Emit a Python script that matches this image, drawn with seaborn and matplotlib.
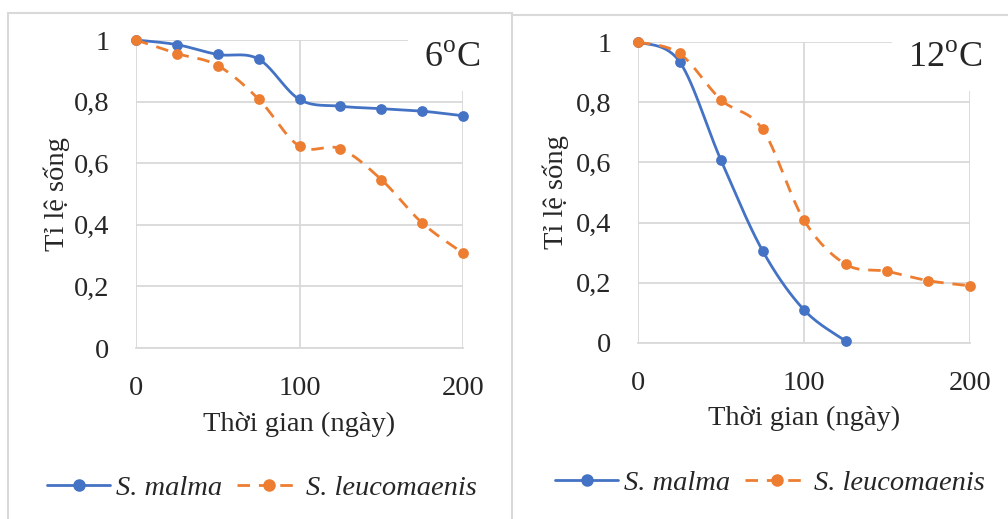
import numpy as np
import matplotlib
matplotlib.use("Agg")
import matplotlib.pyplot as plt
from matplotlib.lines import Line2D
import seaborn as sns

# survival rate vs time (days)
days = [0, 25, 50, 75, 100, 125, 150, 175, 200]
malma_6 = [1.0, 0.985, 0.953, 0.938, 0.807, 0.785, 0.777, 0.769, 0.754]
leuco_6 = [1.0, 0.956, 0.917, 0.808, 0.655, 0.647, 0.547, 0.406, 0.308]
days_malma_12 = [0, 25, 50, 75, 100, 125]
malma_12 = [1.0, 0.935, 0.607, 0.307, 0.11, 0.007]
leuco_12 = [1.0, 0.962, 0.808, 0.71, 0.408, 0.262, 0.238, 0.207, 0.19]
temps = ["6", "12"]
x_ticks = [0, 100, 200]
y_ticks = [0, 0.2, 0.4, 0.6, 0.8, 1.0]
species = ["S. malma", "S. leucomaenis"]

BLUE = "#4472C4"
ORANGE = "#ED7D31"
GRID = "#d9d9d9"
FS = 20.5

sns.set_theme(style="white")
plt.rcParams["font.family"] = ["Liberation Serif", "DejaVu Serif"]
plt.rcParams["mathtext.fontset"] = "custom"
plt.rcParams["mathtext.rm"] = "Liberation Serif"


def smooth(xs, ys, n=30):
    # excel-like smoothed line (bezier through the points)
    pts = np.column_stack([xs, ys]).astype(float)
    ext = np.vstack([pts[0], pts, pts[-1]])
    out = []
    for i in range(len(pts) - 1):
        p0, p1, p2, p3 = ext[i], ext[i + 1], ext[i + 2], ext[i + 3]
        c1 = p1 + (p2 - p0) / 6
        c2 = p2 - (p3 - p1) / 6
        t = np.linspace(0, 1, n)[:, None]
        seg = (1 - t) ** 3 * p1 + 3 * (1 - t) ** 2 * t * c1 + 3 * (1 - t) * t ** 2 * c2 + t ** 3 * p2
        out.append(seg if i == 0 else seg[1:])
    return np.vstack(out)


def fmt(v):
    s = f"{v:g}"
    return s.replace(".", ",")


fig = plt.figure(figsize=(10.08, 5.19), dpi=100)
W, H = 1008, 519

# panel frames
fig.add_artist(Line2D([8 / W, 8 / W], [0, 1 - 13 / H], color=GRID, lw=1.5))
fig.add_artist(Line2D([8 / W, 512 / W], [1 - 13 / H, 1 - 13 / H], color=GRID, lw=1.5))
fig.add_artist(Line2D([512 / W, 512 / W], [0, 1 - 13 / H], color=GRID, lw=1.5))
fig.add_artist(Line2D([512 / W, 1], [1 - 15 / H, 1 - 15 / H], color=GRID, lw=1.5))

# axes boxes in pixels: left, right, top, bottom
boxes = [(136, 463, 40, 348), (638, 970, 42, 343)]
series = [
    [(days, malma_6), (days, leuco_6)],
    [(days_malma_12, malma_12), (days, leuco_12)],
]
styles = [dict(color=BLUE, ls="-"), dict(color=ORANGE, ls=(0, (4.5, 3.2)))]

for k, (l, r, t, b) in enumerate(boxes):
    ax = fig.add_axes([l / W, 1 - b / H, (r - l) / W, (b - t) / H])
    for (xs, ys), st in zip(series[k], styles):
        curve = smooth(xs, ys)
        sns.lineplot(x=curve[:, 0], y=curve[:, 1], sort=False, estimator=None, ax=ax,
                     color=st["color"], linestyle=st["ls"], linewidth=2.0, clip_on=False)
        sns.scatterplot(x=xs, y=ys, ax=ax, color=st["color"], s=60, edgecolor=st["color"],
                        linewidth=0, clip_on=False, zorder=5)
    ax.set_xlim(0, 200)
    ax.set_ylim(0, 1)
    ax.set_xticks(x_ticks)
    ax.set_yticks(y_ticks)
    ax.set_xticklabels([fmt(v) for v in x_ticks])
    ax.set_yticklabels([fmt(v) for v in y_ticks])
    ax.tick_params(axis="x", length=0, pad=20, labelsize=FS)
    ax.tick_params(axis="y", length=0, pad=19, labelsize=FS)
    ax.grid(True, color=GRID, lw=1.3)
    for sp in ["top", "right", "left"]:
        ax.spines[sp].set_visible(False)
    ax.spines["bottom"].set_color(GRID)
    ax.spines["bottom"].set_linewidth(1.3)
    ax.set_xlabel("")
    ax.set_ylabel("")

    cx = (l + r) / 2
    fig.text(cx / W, 1 - (424 if k == 0 else 418) / H, "Thời gian (ngày)",
             ha="center", va="center", fontsize=FS)
    fig.text((57 if k == 0 else 556) / W, 1 - (t + b) / 2 / H, "Tỉ lệ sống",
             ha="center", va="center", rotation=90, fontsize=FS)
    fig.text((480 if k == 0 else 982) / W, 1 - 67 / H, temps[k] + r"$^\mathrm{o}$C",
             ha="right", va="baseline", fontsize=26, zorder=10,
             bbox=dict(facecolor="white", edgecolor="none", boxstyle="square,pad=0.45"))

    handles = [Line2D([], [], color=st["color"], ls=st["ls"], lw=2.0, marker="o",
                      markersize=8) for st in styles]
    fig.legend(handles, species, loc="center", ncol=2,
               bbox_to_anchor=((262 if k == 0 else 770) / W, 1 - (488 if k == 0 else 483) / H),
               frameon=False, prop=dict(size=FS, style="italic"), handlelength=2.2,
               columnspacing=0.55, handletextpad=0.2)

fig.savefig("out.png", dpi=100)
